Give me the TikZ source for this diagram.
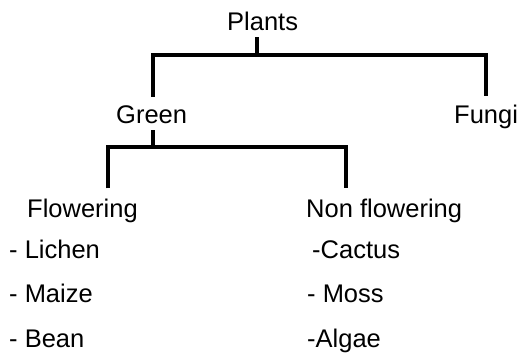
\documentclass[tikz,border=0pt]{standalone}
\usepackage{fontspec}
\setmainfont{Liberation Sans}
\usepackage{tikz}

\begin{document}
\begin{tikzpicture}[x=1pt, y=1pt,
    lbl/.style={font=\fontsize{25.5}{30}\selectfont, inner sep=0pt, anchor=base west},
    bar/.style={line width=4pt}]
  \useasboundingbox (0,-353) rectangle (525,0);

  \node[lbl] (plants) at (227,-31) {Plants};
  \node[lbl] (green) at (116,-123) {Green};
  \node[lbl] (fungi) at (454,-123) {Fungi};
  \node[lbl] (flow) at (27,-217) {Flowering};
  \node[lbl] (nonflow) at (306,-217) {Non flowering};

  \node[lbl] (lichen) at (9,-258) {- Lichen};
  \node[lbl] (maize) at (9,-302) {- Maize};
  \node[lbl] (bean) at (9,-347) {- Bean};
  \node[lbl] (cactus) at (312,-258) {-Cactus};
  \node[lbl] (moss) at (307,-302) {- Moss};
  \node[lbl] (algae) at (307,-347) {-Algae};

  \coordinate (top) at (257,-55);
  \coordinate (mid) at (153,-147);

  \draw[bar] (plants.south -| top) ++(0,-6) -- (top);
  \draw[bar] (green.north -| mid) ++(0,8) |- (top) -| ([yshift=8pt]fungi.north);
  \draw[bar] (green.south -| mid) ++(0,-7) -- (mid);
  \draw[bar] ([xshift=26pt,yshift=10pt]flow.north) |- (mid) -| ([xshift=-38pt,yshift=10pt]nonflow.north);
\end{tikzpicture}
\end{document}
